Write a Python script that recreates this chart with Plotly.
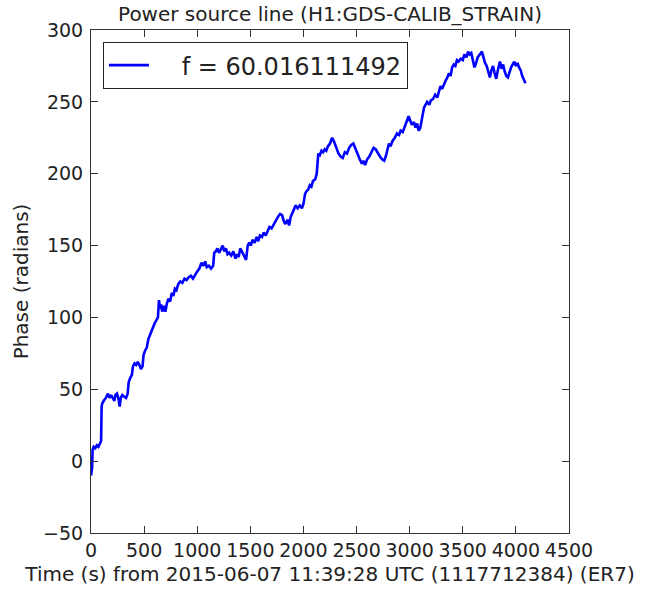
import plotly.graph_objects as go

time_s = [0, 10, 15, 25, 40, 55, 70, 85, 95, 100, 105, 120, 140, 160, 175, 190, 205, 220, 230, 245,
          260, 270, 280, 295, 310, 330, 345, 355, 370, 385, 395, 410, 425, 440, 455, 470, 485, 495, 510, 525,
          540, 555, 570, 585, 600, 615, 630, 640, 650, 660, 670, 685, 700, 715, 730, 745, 760, 775, 790, 805,
          820, 840, 860, 880, 900, 920, 940, 960, 980, 1000, 1020, 1040, 1060, 1075, 1090, 1110, 1130, 1150, 1160, 1175,
          1190, 1205, 1220, 1240, 1255, 1270, 1285, 1300, 1320, 1340, 1360, 1375, 1390, 1405, 1420, 1440, 1460, 1475, 1490, 1505,
          1520, 1540, 1560, 1575, 1590, 1610, 1625, 1645, 1660, 1680, 1700, 1720, 1740, 1760, 1780, 1800, 1815, 1830, 1850, 1865,
          1880, 1895, 1910, 1925, 1945, 1965, 1985, 2000, 2015, 2030, 2045, 2060, 2075, 2090, 2110, 2125, 2140, 2155, 2170, 2185,
          2200, 2215, 2230, 2250, 2270, 2290, 2310, 2330, 2350, 2370, 2390, 2410, 2430, 2450, 2470, 2490, 2510, 2530, 2550, 2565,
          2580, 2600, 2620, 2640, 2660, 2680, 2700, 2720, 2740, 2760, 2775, 2790, 2805, 2820, 2840, 2860, 2880, 2900, 2915, 2935,
          2950, 2970, 2990, 3005, 3020, 3040, 3055, 3070, 3085, 3100, 3120, 3135, 3150, 3165, 3185, 3200, 3220, 3240, 3260, 3275,
          3290, 3305, 3320, 3340, 3355, 3370, 3385, 3400, 3415, 3430, 3445, 3460, 3480, 3500, 3515, 3535, 3550, 3565, 3580, 3595,
          3610, 3625, 3640, 3660, 3680, 3695, 3710, 3725, 3740, 3755, 3770, 3785, 3800, 3815, 3830, 3850, 3865, 3880, 3895, 3910,
          3925, 3940, 3955, 3970, 3985, 4000, 4015, 4030, 4045, 4060, 4075, 4090]

phase_rad = [-10, -5, 8, 10, 9, 11, 10, 13, 14, 38, 40, 42, 44, 47, 44, 46, 44, 42, 46, 47,
             43, 38, 44, 46, 45, 44, 47, 55, 58, 60, 66, 68, 67, 69, 67, 64, 66, 74, 77, 79,
             85, 88, 90, 94, 96, 98, 100, 112, 106, 109, 104, 108, 104, 110, 113, 111, 117, 115, 120, 119,
             123, 125, 124, 127, 126, 128, 129, 127, 130, 132, 134, 138, 136, 139, 135, 136, 134, 136, 145, 146,
             148, 145, 147, 150, 146, 148, 144, 145, 143, 146, 141, 144, 142, 148, 146, 143, 140, 150, 152, 150,
             154, 152, 156, 153, 157, 156, 159, 157, 160, 163, 162, 165, 168, 170, 172, 171, 167, 165, 168, 164,
             170, 172, 175, 178, 176, 178, 176, 179, 186, 188, 189, 192, 191, 195, 196, 200, 214, 213, 216, 215,
             217, 216, 219, 221, 225, 222, 218, 214, 212, 211, 215, 214, 218, 220, 221, 217, 213, 210, 207, 209,
             206, 210, 212, 215, 218, 217, 214, 212, 210, 209, 212, 216, 221, 219, 223, 225, 228, 227, 230, 229,
             232, 236, 240, 237, 234, 236, 232, 235, 230, 232, 240, 246, 248, 250, 248, 251, 252, 255, 253, 258,
             261, 259, 262, 265, 267, 270, 268, 274, 276, 275, 279, 278, 280, 279, 283, 281, 285, 283, 284, 279,
             274, 277, 281, 283, 285, 281, 277, 275, 270, 267, 272, 275, 270, 266, 272, 278, 273, 276, 271, 268,
             267, 271, 274, 276, 278, 275, 277, 274, 272, 268, 266, 263]

x_ticks = [0, 500, 1000, 1500, 2000, 2500, 3000, 3500, 4000, 4500]
y_ticks = [-50, 0, 50, 100, 150, 200, 250, 300]

series_name = "f = 60.016111492"
title_text = "Power source line (H1:GDS-CALIB_STRAIN)"
x_title = "Time (s) from 2015-06-07 11:39:28 UTC (1117712384) (ER7)"
y_title = "Phase (radians)"

FONT = "DejaVu Sans"
INK = "#222222"

fig = go.Figure()
fig.add_trace(go.Scatter(
    x=time_s, y=phase_rad, mode="lines",
    name="\u00a0\u00a0\u00a0\u2009" + series_name,
    line=dict(color="#0000ff", width=2.6),
    showlegend=True,
))

axis_common = dict(
    showgrid=False, zeroline=False, showline=True, linecolor="#333333", linewidth=1,
    mirror="ticks", ticks="inside", ticklen=7, tickwidth=1, tickcolor="#333333",
    tickfont=dict(family=FONT, size=19, color=INK), automargin=False,
)

fig.update_layout(
    width=663, height=589,
    margin=dict(l=91, r=94, t=30, b=56, autoexpand=False),
    paper_bgcolor="white", plot_bgcolor="white",
    font=dict(family=FONT, color=INK),
    title=dict(text=title_text, x=0.5, xref="paper", y=1 - 14 / 589, yref="container",
               xanchor="center", yanchor="middle", font=dict(family=FONT, size=20, color=INK)),
    xaxis=dict(range=[0, 4500], tickmode="array", tickvals=x_ticks,
               title=dict(text=x_title, font=dict(family=FONT, size=20, color=INK), standoff=7),
               **axis_common),
    yaxis=dict(range=[-50, 300], tickmode="array", tickvals=y_ticks, ticklabelstandoff=3,
               title=dict(text=y_title, font=dict(family=FONT, size=20, color=INK), standoff=9),
               **axis_common),
    legend=dict(x=0.025, y=0.976, xanchor="left", yanchor="top",
                bordercolor=INK, borderwidth=1, bgcolor="white",
                font=dict(family=FONT, size=24, color=INK), itemwidth=40),
)

fig.write_html("out.html")
